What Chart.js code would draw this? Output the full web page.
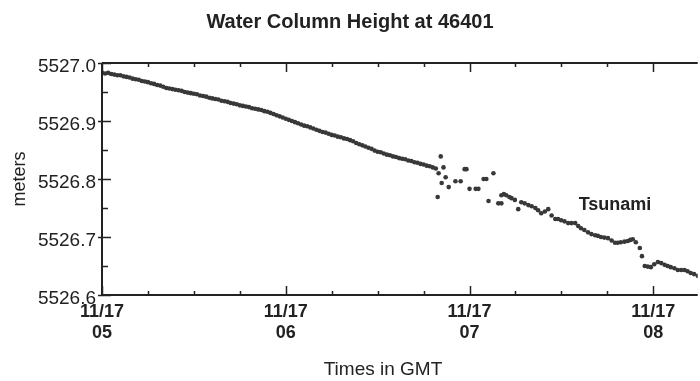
<!DOCTYPE html>
<html>
<head>
<meta charset="utf-8">
<script src="https://cdn.jsdelivr.net/npm/chart.js@4"></script>
<style>
  html, body { margin: 0; padding: 0; background: #fff; }
  #wrap { width: 700px; height: 381px; }
</style>
</head>
<body>
<div id="wrap"><canvas id="waterChart" width="700" height="381"></canvas></div>
<script>
// one sample per minute starting at 11/17 05:00 (before the tsunami arrives)
const backgroundHeights = [
  5526.983, 5526.982, 5526.983, 5526.981, 5526.980, 5526.979, 5526.979, 5526.977, 5526.976, 5526.975,
  5526.973, 5526.972, 5526.971, 5526.969, 5526.968, 5526.967, 5526.965, 5526.964, 5526.962, 5526.961,
  5526.959, 5526.957, 5526.956, 5526.955, 5526.954, 5526.953, 5526.952, 5526.950, 5526.949, 5526.948,
  5526.947, 5526.946, 5526.944, 5526.943, 5526.942, 5526.940, 5526.939, 5526.938, 5526.937, 5526.935,
  5526.934, 5526.933, 5526.931, 5526.930, 5526.929, 5526.927, 5526.926, 5526.925, 5526.924, 5526.922,
  5526.921, 5526.920, 5526.919, 5526.917, 5526.916, 5526.914, 5526.912, 5526.910, 5526.908, 5526.906,
  5526.904, 5526.902, 5526.900, 5526.898, 5526.896, 5526.894, 5526.892, 5526.891, 5526.889, 5526.887,
  5526.885, 5526.883, 5526.881, 5526.880, 5526.878, 5526.876, 5526.875, 5526.873, 5526.872, 5526.870,
  5526.869, 5526.867, 5526.865, 5526.862, 5526.860, 5526.858, 5526.856, 5526.854, 5526.852, 5526.849,
  5526.847, 5526.846, 5526.844, 5526.842, 5526.841, 5526.839, 5526.838, 5526.836, 5526.835, 5526.834,
  5526.832, 5526.831, 5526.829, 5526.828, 5526.826, 5526.825, 5526.823, 5526.822, 5526.820, 5526.818
];

// scattered readings while the wave passes (minutes after 05:00)
const eventMinutes = [109.6, 109.9, 110.6, 110.9, 111.5, 112.2, 113.2, 115.4, 117.1, 118.4,
  119.0, 120.0, 122.0, 122.9, 124.6, 125.5, 126.2, 127.8, 129.4, 130.4];
const eventHeights = [5526.769, 5526.810, 5526.839, 5526.793, 5526.820, 5526.803, 5526.786, 5526.796, 5526.796, 5526.817,
  5526.817, 5526.783, 5526.783, 5526.783, 5526.800, 5526.800, 5526.762, 5526.810, 5526.758, 5526.758];

// readings after the first waves
const afterMinutes = [130.4, 131.2, 132.0, 133.0, 133.7, 134.8, 135.9, 136.9, 138.0, 139.2,
  140.3, 141.5, 142.4, 143.4, 144.6, 145.7, 146.8, 148.0, 148.9, 149.9,
  151.0, 152.2, 153.3, 154.5, 155.5, 156.4, 157.5, 158.7, 159.8, 161.0,
  161.9, 162.9, 164.0, 165.2, 166.4, 167.5, 168.4, 169.4, 170.6, 171.7,
  172.5, 173.3, 174.3, 175.6, 176.3, 177.2, 178.2, 179.2, 180.3, 181.5,
  182.6, 183.7, 184.7, 185.7, 186.9, 188.0, 189.1, 190.2, 191.2, 192.2, 193.3, 194.5];
const afterHeights = [5526.772, 5526.774, 5526.772, 5526.769, 5526.767, 5526.764, 5526.748, 5526.760, 5526.758, 5526.755,
  5526.753, 5526.750, 5526.746, 5526.741, 5526.744, 5526.748, 5526.737, 5526.731, 5526.731, 5526.729,
  5526.727, 5526.724, 5526.724, 5526.724, 5526.719, 5526.715, 5526.712, 5526.708, 5526.705, 5526.703,
  5526.702, 5526.700, 5526.699, 5526.698, 5526.694, 5526.690, 5526.690, 5526.691, 5526.692, 5526.693,
  5526.695, 5526.696, 5526.691, 5526.681, 5526.667, 5526.650, 5526.649, 5526.648, 5526.653, 5526.657,
  5526.655, 5526.652, 5526.650, 5526.648, 5526.646, 5526.643, 5526.643, 5526.643, 5526.641, 5526.638, 5526.636, 5526.633];

const hourLabels = ['05', '06', '07', '08'];
const dateLabel = '11/17';

const FONT = "'Liberation Sans', Arial, Helvetica, sans-serif";
const INK = '#222';
const DOT = '#383838';

function toPoints(xs, ys) {
  return ys.map((y, i) => ({ x: xs[i], y: y }));
}

const points = backgroundHeights.map((h, i) => ({ x: i, y: h }))
  .concat(toPoints(eventMinutes, eventHeights))
  .concat(toPoints(afterMinutes, afterHeights));

// frame, inward ticks and the free text
const framePlugin = {
  id: 'frame',
  afterDraw(chart) {
    const ctx = chart.ctx;
    const a = chart.chartArea;
    const xs = chart.scales.x;
    const ys = chart.scales.y;
    ctx.save();
    ctx.strokeStyle = INK;
    ctx.lineWidth = 2;
    ctx.beginPath();
    ctx.moveTo(a.left, a.top);
    ctx.lineTo(a.right, a.top);
    ctx.moveTo(a.left, a.top);
    ctx.lineTo(a.left, a.bottom);
    ctx.lineTo(a.right, a.bottom);
    ctx.stroke();

    ctx.lineWidth = 1.5;
    ctx.beginPath();
    xs.ticks.forEach(t => {
      if (t.value % 15 !== 0) return;
      const px = Math.round(xs.getPixelForValue(t.value)) + 0.5;
      const len = t.value % 60 === 0 ? 9 : 4;
      ctx.moveTo(px, a.bottom);
      ctx.lineTo(px, a.bottom - len);
      ctx.moveTo(px, a.top);
      ctx.lineTo(px, a.top + len);
    });
    ys.ticks.forEach(t => {
      const k = Math.round((t.value - 5526.6) / 0.05);
      const py = Math.round(ys.getPixelForValue(t.value)) + 0.5;
      if (k % 2 === 0) {
        ctx.moveTo(a.left - 4, py);
        ctx.lineTo(a.left + 9, py);
      } else {
        ctx.moveTo(a.left, py);
        ctx.lineTo(a.left + 6, py);
      }
    });
    ctx.stroke();

    ctx.fillStyle = INK;
    ctx.textAlign = 'center';
    ctx.textBaseline = 'middle';
    ctx.font = 'bold 18px ' + FONT;
    ctx.fillText('Tsunami', xs.getPixelForValue(167.5), ys.getPixelForValue(5526.755));
    ctx.font = '19px ' + FONT;
    ctx.fillText('Times in GMT', a.left + 281, 370);
    ctx.restore();
  }
};

new Chart(document.getElementById('waterChart'), {
  type: 'scatter',
  data: {
    datasets: [{
      data: points,
      backgroundColor: DOT,
      borderColor: DOT,
      borderWidth: 0,
      pointRadius: 2.3,
      pointHoverRadius: 2.3
    }]
  },
  options: {
    responsive: false,
    animation: false,
    layout: { padding: 0 },
    plugins: {
      legend: { display: false },
      tooltip: { enabled: false },
      title: {
        display: true,
        text: 'Water Column Height at 46401',
        color: INK,
        font: { family: FONT, size: 20, weight: 'bold' },
        padding: { top: 10, bottom: 29 }
      }
    },
    scales: {
      x: {
        type: 'linear',
        min: 0,
        max: 194.5,
        grid: { display: false, drawTicks: false },
        border: { display: false },
        ticks: {
          stepSize: 15,
          includeBounds: false,
          autoSkip: false,
          maxRotation: 0,
          padding: 6,
          color: INK,
          font: { family: FONT, size: 18, weight: 'bold' },
          callback: v => v % 60 === 0 ? [dateLabel, hourLabels[v / 60]] : ''
        },
        afterFit: s => { s.height = 86; s.paddingRight = 0; s.paddingLeft = 0; }
      },
      y: {
        min: 5526.6,
        max: 5527.0,
        grid: { display: false, drawTicks: false },
        border: { display: false },
        ticks: {
          stepSize: 0.05,
          autoSkip: false,
          padding: 6,
          labelOffset: 4,
          color: INK,
          font: { family: FONT, size: 19 },
          callback: v => Math.round(v * 100) % 10 === 0 ? v.toFixed(1) : ''
        },
        title: {
          display: true,
          text: 'meters',
          color: INK,
          font: { family: FONT, size: 18 },
          padding: { top: 9, bottom: 0 }
        },
        afterFit: s => { s.width = 102; }
      }
    }
  },
  plugins: [framePlugin]
});
</script>
</body>
</html>
